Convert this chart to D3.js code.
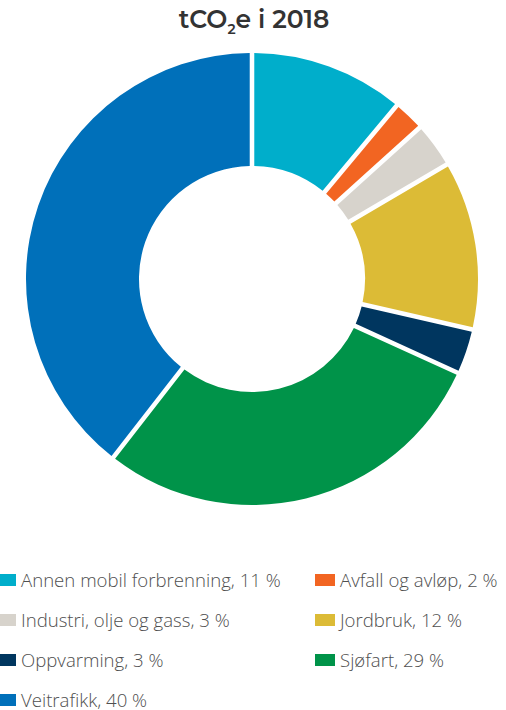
<!DOCTYPE html>
<html>
<head>
<meta charset="utf-8">
<script src="https://cdn.jsdelivr.net/npm/d3@7"></script>
<style>
  html, body { margin: 0; padding: 0; background: #fff; }
  svg { display: block; }
</style>
</head>
<body>
<svg id="chart" width="506" height="710"></svg>
<script>
const categories = ["Annen mobil forbrenning", "Avfall og avløp", "Industri, olje og gass", "Jordbruk", "Oppvarming", "Sjøfart", "Veitrafikk"];
const values = [11, 2, 3, 12, 3, 29, 40];
const colors = ["#00AECB", "#F26522", "#D7D3CC", "#DCBB36", "#00365F", "#009349", "#0070BA"];
const legendLabels = categories.map((c, i) => `${c}, ${values[i]} %`);

const svg = d3.select("#chart");
const W = 506;
const cx = 252, cy = 279, rOuter = 226, rInner = 113;

// Title
const title = svg.append("text")
  .attr("x", W / 2 + 1).attr("y", 28)
  .attr("text-anchor", "middle")
  .attr("font-family", "Montserrat, 'Open Sans', sans-serif")
  .attr("font-weight", 600)
  .attr("font-size", 25)
  .attr("fill", "#333");
title.append("tspan").text("tCO");
title.append("tspan").text("2").attr("font-size", 14).attr("dy", 6);
title.append("tspan").text("e i 2018").attr("dy", -6);

const data = categories.map((c, i) => ({ name: c, value: values[i], color: colors[i] }));

const pie = d3.pie().value(d => d.value).sort(null).padAngle(0.018);
const arc = d3.arc().innerRadius(rInner).outerRadius(rOuter);

const g = svg.append("g").attr("transform", `translate(${cx},${cy})`);
g.selectAll("path")
  .data(pie(data))
  .join("path")
  .attr("d", arc)
  .attr("fill", d => d.data.color);

// Legend
const colX = [-4, 315];
const rowY = [574, 614, 654, 694];
const leg = svg.append("g");
data.forEach((d, i) => {
  const col = i % 2, row = Math.floor(i / 2);
  const gx = colX[col], gy = rowY[row];
  const item = leg.append("g").attr("transform", `translate(${gx},${gy})`);
  item.append("rect").attr("width", 20).attr("height", 12).attr("fill", d.color);
  item.append("text")
    .attr("x", 25).attr("y", 12.5)
    .attr("font-family", "'Open Sans', sans-serif")
    .attr("font-weight", 300)
    .attr("font-size", 18.6)
    .attr("fill", "#4f4f4f")
    .text(legendLabels[i]);
});
</script>
</body>
</html>
